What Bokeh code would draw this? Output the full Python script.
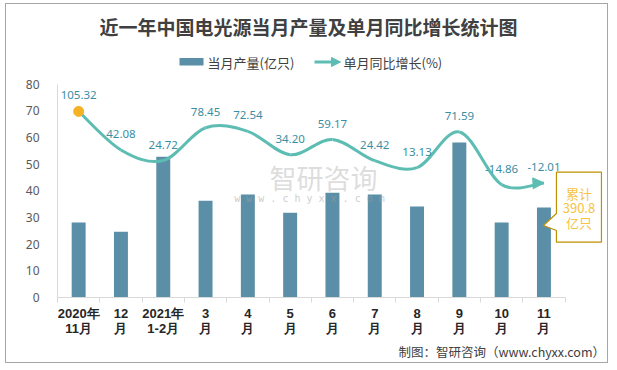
from bokeh.plotting import figure
from bokeh.models import Range1d, FixedTicker, Arrow, NormalHead, Title
from bokeh.core.properties import value
from bokeh.embed import file_html
from bokeh.resources import INLINE

# ---------------- data ----------------
months = ["2020年\n11月", "12\n月", "2021年\n1-2月", "3\n月", "4\n月", "5\n月",
          "6\n月", "7\n月", "8\n月", "9\n月", "10\n月", "11\n月"]
production = [28.1, 24.7, 52.8, 36.3, 38.6, 31.8, 39.3, 38.6, 34.1, 58.1, 28.1, 33.7]
growth = [105.32, 42.08, 24.72, 78.45, 72.54, 34.20, 59.17, 24.42, 13.13, 71.59, -14.86, -12.01]
y_ticks = [0, 10, 20, 30, 40, 50, 60, 70, 80]
cumulative_total = "390.8"
title_text = "近一年中国电光源当月产量及单月同比增长统计图"
series_names = ["当月产量(亿只)", "单月同比增长(%)"]
source_text = "制图：智研咨询（www.chyxx.com）"

# ---------------- style / layout ----------------
BAR_COLOR = "#5B8FA7"
LINE_COLOR = "#5DBDB3"
LABEL_COLOR = "#3A8EA3"
GOLD = "#F5B324"
CJK = "Noto Sans CJK SC"

W, H = 603, 360
BL, BR, BT, BB = 51, 0, 1, 67
ORIGIN_X, ORIGIN_Y = 6, 4          # canvas origin in page pixels
FRAME_LEFT = ORIGIN_X + BL
FRAME_BOTTOM = ORIGIN_Y + H - BB
X_PX = 42.3                        # pixels per category
Y_PX = 2.667                       # pixels per unit on left axis
frame_w = W - BL - BR
frame_h = H - BT - BB
x_end = frame_w / X_PX
y_end = frame_h / Y_PX
G_START, G_PER_UNIT = -200.0, 350.0 / 80.0


def X(px):
    return (px - FRAME_LEFT) / X_PX


def Y(py):
    return (FRAME_BOTTOM - py) / Y_PX


n = len(months)
centers = [i + 0.5 for i in range(n)]

p = figure(width=W, height=H, output_backend="svg", toolbar_location=None,
           x_range=Range1d(0, x_end), y_range=Range1d(0, y_end),
           min_border_left=BL, min_border_right=BR, min_border_top=BT, min_border_bottom=BB)
p.title.visible = False
p.extra_y_ranges = {"growth": Range1d(G_START, G_START + y_end * G_PER_UNIT)}
p.outline_line_color = None
p.xgrid.visible = False
p.ygrid.visible = False
p.background_fill_color = "white"
p.border_fill_color = "white"
p.styles = {"border": "1px solid #A6A6A6", "margin-left": "5px", "margin-top": "3px"}

# axes
p.yaxis.ticker = FixedTicker(ticks=y_ticks)
p.yaxis.bounds = (0, 80)
p.yaxis.axis_line_color = "#D9D9D9"
p.yaxis.major_tick_line_color = None
p.yaxis.minor_tick_line_color = None
p.yaxis.major_label_standoff = 12
p.yaxis.major_label_text_font = "Noto Sans"
p.yaxis.major_label_text_font_size = "12px"
p.yaxis.major_label_text_color = "#595959"

p.xaxis.ticker = FixedTicker(ticks=centers, minor_ticks=list(range(n + 1)))
p.xaxis.bounds = (0, n)
p.xaxis.major_label_overrides = {c: m for c, m in zip(centers, months)}
p.xaxis.axis_line_color = "#D9D9D9"
p.xaxis.major_tick_line_color = None
p.xaxis.minor_tick_line_color = "#D9D9D9"
p.xaxis.minor_tick_in = 0
p.xaxis.minor_tick_out = 5
p.xaxis.major_label_standoff = 2
p.xaxis.major_label_text_font = "Liberation Sans"
p.xaxis.major_label_text_font_style = "bold"
p.xaxis.major_label_text_font_size = "13px"
p.xaxis.major_label_text_line_height = 1.0
p.xaxis.major_label_text_color = "#262626"

# source footer, placed under the x axis
p.add_layout(Title(text=source_text, align="left", offset=341, standoff=2,
                   text_font=CJK, text_font_size="12.5px", text_font_style="normal",
                   text_line_height=1.3, text_color="#404040"), "below")

# bars
p.vbar(x=centers, top=production, width=0.33, fill_color=BAR_COLOR, line_color=None)

# smoothed growth line (Catmull-Rom -> Bezier)
pts = list(zip(centers, growth))
bx0, by0, bx1, by1, cx0, cy0, cx1, cy1 = [], [], [], [], [], [], [], []
for i in range(n - 1):
    p0 = pts[i - 1] if i > 0 else pts[i]
    p1 = pts[i]
    p2 = pts[i + 1]
    p3 = pts[i + 2] if i + 2 < n else pts[i + 1]
    bx0.append(p1[0]); by0.append(p1[1])
    bx1.append(p2[0]); by1.append(p2[1])
    cx0.append(p1[0] + (p2[0] - p0[0]) / 6); cy0.append(p1[1] + (p2[1] - p0[1]) / 6)
    cx1.append(p2[0] - (p3[0] - p1[0]) / 6); cy1.append(p2[1] - (p3[1] - p1[1]) / 6)
p.bezier(x0=bx0, y0=by0, x1=bx1, y1=by1, cx0=cx0, cy0=cy0, cx1=cx1, cy1=cy1,
         line_color=LINE_COLOR, line_width=3, y_range_name="growth")
p.add_layout(Arrow(end=NormalHead(size=11, fill_color=LINE_COLOR, line_color=LINE_COLOR),
                   x_start=cx1[-1], y_start=cy1[-1], x_end=bx1[-1], y_end=by1[-1],
                   line_color=LINE_COLOR, line_width=3, line_alpha=0, y_range_name="growth"))
p.scatter(x=[centers[0]], y=[growth[0]], size=10, fill_color=GOLD, line_color=GOLD,
          y_range_name="growth")

# value labels
p.text(x=centers, y=growth, text=[f"{g:.2f}" for g in growth], y_range_name="growth",
       y_offset=-16, text_align="center", text_baseline="middle",
       text_font=value("Noto Sans"), text_font_size="11.5px", text_color=LABEL_COLOR)

# title
p.text(x=[X(308)], y=[Y(26)], text=[title_text], text_align="center", text_baseline="middle",
       text_font=value(CJK), text_font_style="bold", text_font_size="19px", text_color="#404040")

# legend
p.quad(left=[X(179)], right=[X(203)], top=[Y(57.5)], bottom=[Y(65)],
       fill_color=BAR_COLOR, line_color=None)
p.text(x=[X(207)], y=[Y(61.5)], text=[series_names[0]], text_align="left", text_baseline="middle",
       text_font=value(CJK), text_font_size="13px", text_color="#404040")
p.add_layout(Arrow(end=NormalHead(size=9, fill_color=LINE_COLOR, line_color=LINE_COLOR),
                   x_start=X(314), y_start=Y(61.5), x_end=X(340), y_end=Y(61.5),
                   line_color=LINE_COLOR, line_width=3))
p.text(x=[X(343)], y=[Y(61.5)], text=[series_names[1]], text_align="left", text_baseline="middle",
       text_font=value(CJK), text_font_size="13px", text_color="#404040")

# callout for cumulative total (anchored to last bar)
cx_last = FRAME_LEFT + centers[-1] * X_PX
box_l, box_r, box_t, box_b = cx_last + 12.5, cx_last + 57.5, 171.7, 241.7
tip_x, tip_y = cx_last - 0.5, 225
p.patch(x=[X(box_l), X(box_r), X(box_r), X(box_l), X(box_l), X(tip_x), X(box_l), X(box_l)],
        y=[Y(box_t), Y(box_t), Y(box_b), Y(box_b), Y(230), Y(tip_y), Y(213), Y(box_t)],
        fill_color="white", line_color="#BF9000", line_width=1.2)
for txt, yy in zip(["累计", cumulative_total, "亿只"], [193, 207.5, 222]):
    p.text(x=[X((box_l + box_r) / 2)], y=[Y(yy)], text=[txt], text_align="center",
           text_baseline="middle", text_font=value(CJK), text_font_size="13px",
           text_color="#F6C343")

# watermark
p.text(x=[X(323)], y=[Y(177)], text=["智研咨询"], text_align="center", text_baseline="middle",
       text_font=value(CJK), text_font_size="27px", text_color="#BFBFBF", text_alpha=0.55)
p.text(x=[X(309)], y=[Y(198)], text=["w w w . c h y x x . c o m"], text_align="center",
       text_baseline="middle", text_font=value("DejaVu Sans Mono"), text_font_size="10px",
       text_color="#A0A0A0", text_alpha=0.55)

open("out.html", "w").write(file_html(p, INLINE))
